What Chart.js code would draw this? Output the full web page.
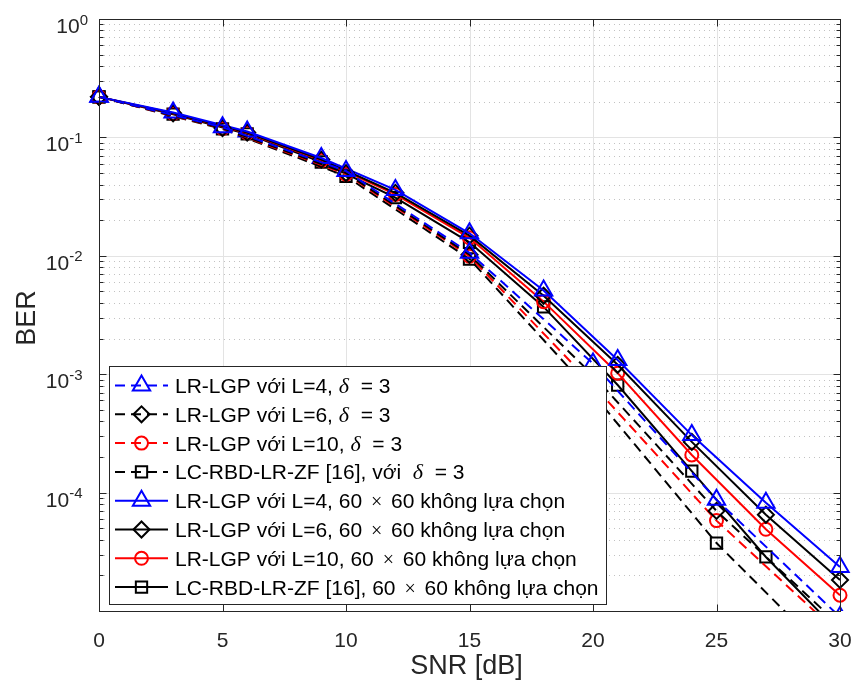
<!DOCTYPE html>
<html>
<head>
<meta charset="utf-8">
<script src="https://cdn.jsdelivr.net/npm/chart.js@4.4.1/dist/chart.umd.min.js"></script>
<style>
  html, body { margin: 0; padding: 0; background: #ffffff; }
  #wrap { width: 856px; height: 688px; }
</style>
</head>
<body>
<div id="wrap"><canvas id="berChart" width="856" height="688"></canvas></div>
<script>
// SNR sample points (dB)
const SNR_SEL = [0, 5, 10, 15, 20, 25, 30];                      // delta = 3 curves (dashed)
const SNR_FULL = [0, 3, 6, 9, 12, 15, 18, 21, 24, 27, 30];       // 60x60 no selection (solid)

// BER
const BER_L4_SEL  = [0.22, 0.122, 0.052, 0.0106, 0.00123, 8.7e-5, 8.9e-6];
const BER_L6_SEL  = [0.22, 0.120, 0.050, 0.0102, 0.00098, 7.0e-5, 7.5e-6];
const BER_L10_SEL = [0.22, 0.119, 0.049, 0.0099, 0.00081, 5.8e-5, 6.3e-6];
const BER_RBD_SEL = [0.22, 0.118, 0.047, 0.0094, 0.00068, 3.75e-5, 3.4e-6];

const BER_L4_FULL  = [0.22, 0.162, 0.112, 0.067, 0.036, 0.0155, 0.0051, 0.00132, 3.06e-4, 8.2e-5, 2.35e-5];
const BER_L6_FULL  = [0.22, 0.160, 0.110, 0.065, 0.034, 0.0148, 0.0046, 0.00120, 2.68e-4, 6.5e-5, 1.83e-5];
const BER_L10_FULL = [0.22, 0.159, 0.109, 0.064, 0.033, 0.0142, 0.0041, 0.00102, 2.08e-4, 4.9e-5, 1.36e-5];
const BER_RBD_FULL = [0.22, 0.157, 0.107, 0.062, 0.031, 0.0130, 0.0037, 0.00081, 1.52e-4, 2.86e-5, 6.5e-6];

const LABELS = [
    'LR-LGP với L=4, δ  = 3',
    'LR-LGP với L=6, δ  = 3',
    'LR-LGP với L=10, δ  = 3',
    'LC-RBD-LR-ZF [16], với  δ  = 3',
    'LR-LGP với L=4, 60 × 60 không lựa chọn',
    'LR-LGP với L=6, 60 × 60 không lựa chọn',
    'LR-LGP với L=10, 60 × 60 không lựa chọn',
    'LC-RBD-LR-ZF [16], 60 × 60 không lựa chọn'
];

// axis ticks
const X_TICKS = [0, 5, 10, 15, 20, 25, 30];
const Y_DECADES = [1, 1e-1, 1e-2, 1e-3, 1e-4, 1e-5];
const Y_LABEL_VALUES = [1, 1e-1, 1e-2, 1e-3, 1e-4];
const Y_LABEL_EXPONENTS = ['0', '-1', '-2', '-3', '-4'];

const THEME = { axis: '#262626', major: '#e3e3e3', minor: '#c2c2c2', font: '"Liberation Sans", Arial, Helvetica, sans-serif', serif: '"Liberation Serif", "Times New Roman", serif' };
const DASH = [10, 6];

const make_series = (label, xs, ys, color, style, radius, dashed) => ({
    label,
    data: xs.map((x, i) => ({ x, y: ys[i] })),
    borderColor: color, borderWidth: 2, borderDash: dashed ? DASH : [],
    pointStyle: style, pointRadius: radius, pointBorderWidth: 2,
    pointBorderColor: color, pointBackgroundColor: 'rgba(0,0,0,0)',
    tension: 0, fill: false,
    clip: { left: 20, right: 20, top: 20, bottom: 0 }
});

const datasets = [
    make_series(LABELS[0], SNR_SEL, BER_L4_SEL, '#0000ff', 'triangle', 10, true),
    make_series(LABELS[1], SNR_SEL, BER_L6_SEL, '#000000', 'rectRot', 8, true),
    make_series(LABELS[2], SNR_SEL, BER_L10_SEL, '#ff0000', 'circle', 6.5, true),
    make_series(LABELS[3], SNR_SEL, BER_RBD_SEL, '#000000', 'rect', 8, true),
    make_series(LABELS[4], SNR_FULL, BER_L4_FULL, '#0000ff', 'triangle', 10, false),
    make_series(LABELS[5], SNR_FULL, BER_L6_FULL, '#000000', 'rectRot', 8, false),
    make_series(LABELS[6], SNR_FULL, BER_L10_FULL, '#ff0000', 'circle', 6.5, false),
    make_series(LABELS[7], SNR_FULL, BER_RBD_FULL, '#000000', 'rect', 8, false)
];

// minor log values 2..9 inside each decade of the axis
const minor_values = () => Y_DECADES.slice(1).flatMap(d => [2, 3, 4, 5, 6, 7, 8, 9].map(k => d * k));

// --- MATLAB-like axes: grid below the curves, box/ticks/labels above ---
const axes_plugin = {
    id: 'matlabAxes',
    beforeDatasetsDraw(chart) {
        const { ctx, chartArea: a, scales: { x, y } } = chart;
        ctx.save();
        ctx.lineWidth = 1;
        ctx.strokeStyle = THEME.minor;
        ctx.setLineDash([1, 4]);
        minor_values().forEach(v => {
            const py = Math.round(y.getPixelForValue(v)) + 0.5;
            ctx.beginPath(); ctx.moveTo(a.left, py); ctx.lineTo(a.right, py); ctx.stroke();
        });
        ctx.setLineDash([]);
        ctx.strokeStyle = THEME.major;
        Y_DECADES.forEach(d => {
            const py = Math.round(y.getPixelForValue(d)) + 0.5;
            ctx.beginPath(); ctx.moveTo(a.left, py); ctx.lineTo(a.right, py); ctx.stroke();
        });
        X_TICKS.forEach(v => {
            const px = Math.round(x.getPixelForValue(v)) + 0.5;
            ctx.beginPath(); ctx.moveTo(px, a.top); ctx.lineTo(px, a.bottom); ctx.stroke();
        });
        ctx.restore();
    },
    afterDatasetsDraw(chart) {
        const { ctx, chartArea: a, scales: { x, y } } = chart;
        const L = Math.round(a.left) + 0.5, R = Math.round(a.right) + 0.5;
        const T = Math.round(a.top) + 0.5, B = Math.round(a.bottom) + 0.5;
        ctx.save();
        ctx.strokeStyle = THEME.axis;
        ctx.lineWidth = 1;
        ctx.strokeRect(L, T, R - L, B - T);
        // inward ticks
        ctx.beginPath();
        X_TICKS.forEach(v => {
            const px = Math.round(x.getPixelForValue(v)) + 0.5;
            ctx.moveTo(px, B); ctx.lineTo(px, B - 7);
            ctx.moveTo(px, T); ctx.lineTo(px, T + 7);
        });
        Y_DECADES.forEach(d => {
            const py = Math.round(y.getPixelForValue(d)) + 0.5;
            ctx.moveTo(L, py); ctx.lineTo(L + 7, py);
            ctx.moveTo(R, py); ctx.lineTo(R - 7, py);
        });
        minor_values().forEach(v => {
            const pm = Math.round(y.getPixelForValue(v)) + 0.5;
            ctx.moveTo(L, pm); ctx.lineTo(L + 4, pm);
            ctx.moveTo(R, pm); ctx.lineTo(R - 4, pm);
        });
        ctx.stroke();

        // tick labels
        ctx.fillStyle = THEME.axis;
        ctx.textAlign = 'center';
        ctx.textBaseline = 'alphabetic';
        ctx.font = `21px ${THEME.font}`;
        X_TICKS.forEach(v => ctx.fillText(String(v), x.getPixelForValue(v), a.bottom + 36));

        ctx.textAlign = 'left';
        Y_LABEL_VALUES.forEach((v, i) => {
            const py = y.getPixelForValue(v);
            const exp = Y_LABEL_EXPONENTS[i];
            ctx.font = `15px ${THEME.font}`;
            const w_exp = ctx.measureText(exp).width;
            ctx.font = `21px ${THEME.font}`;
            const w_base = ctx.measureText('10').width;
            const right = a.left - (exp.startsWith('-') ? 16.5 : 11);
            ctx.fillText('10', right - w_exp - w_base, py + 14);
            ctx.font = `15px ${THEME.font}`;
            ctx.fillText(exp, right - w_exp, py + 5.5);
        });

        // axis titles
        ctx.font = `27px ${THEME.font}`;
        ctx.textAlign = 'center';
        ctx.fillText('SNR [dB]', (a.left + a.right) / 2 - 3, a.bottom + 63);
        ctx.save();
        ctx.translate(35, (a.top + a.bottom) / 2 + 3);
        ctx.rotate(-Math.PI / 2);
        ctx.fillText('BER', 0, 0);
        ctx.restore();
        ctx.restore();
    },
    afterDraw(chart) {
        const { ctx } = chart;
        const box = { left: 109.5, top: 366.5, right: 606.5, bottom: 604.5 };
        ctx.save();
        ctx.fillStyle = '#ffffff';
        ctx.fillRect(box.left, box.top, box.right - box.left, box.bottom - box.top);
        ctx.strokeStyle = THEME.axis;
        ctx.lineWidth = 1;
        ctx.strokeRect(box.left, box.top, box.right - box.left, box.bottom - box.top);

        chart.data.datasets.forEach((ds, i) => {
            const cy = 385.5 + i * 28.8;
            ctx.strokeStyle = ds.borderColor;
            ctx.lineWidth = ds.borderWidth;
            ctx.setLineDash(ds.borderDash);
            ctx.beginPath(); ctx.moveTo(115, cy); ctx.lineTo(168, cy); ctx.stroke();
            ctx.setLineDash([]);
            ctx.fillStyle = 'rgba(0,0,0,0)';
            Chart.helpers.drawPoint(ctx, { pointStyle: ds.pointStyle, radius: ds.pointRadius, rotation: 0, borderWidth: ds.pointBorderWidth }, 141.5, cy);

            // label: delta in italic serif, times sign in serif with TeX-like spacing
            ctx.fillStyle = '#000000';
            ctx.textAlign = 'left';
            ctx.textBaseline = 'alphabetic';
            let tx = 175;
            ds.label.split(/(δ|×)/).forEach(part => {
                if (!part) return;
                let pad = 0;
                if (part === 'δ') ctx.font = `italic 22px ${THEME.serif}`;
                else if (part === '×') { ctx.font = `20px ${THEME.serif}`; pad = 3; }
                else ctx.font = `21px ${THEME.font}`;
                tx += pad;
                ctx.fillText(part, tx, cy + 7.5);
                tx += ctx.measureText(part).width + pad;
            });
        });
        ctx.restore();
    }
};

new Chart(document.getElementById('berChart'), {
    type: 'line',
    data: { datasets },
    options: {
        responsive: false,
        animation: false,
        layout: { padding: { left: 99, right: 16, top: 19, bottom: 77 } },
        scales: {
            x: { type: 'linear', display: false, min: 0, max: 30 },
            y: { type: 'logarithmic', display: false, min: 1e-5, max: 1 }
        },
        plugins: { legend: { display: false }, tooltip: { enabled: false } }
    },
    plugins: [axes_plugin]
});
</script>
</body>
</html>
